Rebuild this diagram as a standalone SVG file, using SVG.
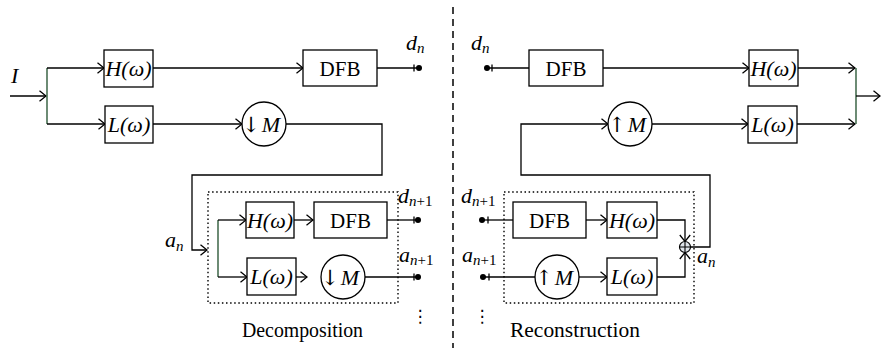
<svg xmlns="http://www.w3.org/2000/svg" width="885" height="348" viewBox="0 0 885 348">
<style>
.b{fill:#fff;stroke:#000;stroke-width:1.3}
.w{fill:none;stroke:#000;stroke-width:1.3}
.g{fill:none;stroke:#2e5b3a;stroke-width:1.4}
.dot{fill:none;stroke:#000;stroke-width:1.4;stroke-dasharray:1.5 2.6}
.t{font-family:"Liberation Serif",serif;font-size:21px;fill:#000}
.f{font-size:22px}
.l{font-size:22px}
.i{font-style:italic}
.s{font-size:15px}
.arw{font-family:"DejaVu Serif","Liberation Serif",serif;font-size:21px;fill:#000}
.a{marker-end:url(#ah)}
</style>
<defs>
<marker id="ah" viewBox="0 0 10 12" refX="9" refY="6" markerWidth="10" markerHeight="12" markerUnits="userSpaceOnUse" orient="auto">
<path d="M2.5,0.8 L9,6 L2.5,11.2" fill="none" stroke="#000" stroke-width="1.3"/>
</marker>
</defs>
<rect width="885" height="348" fill="#fff"/>

<line x1="453" y1="7" x2="453" y2="348" stroke="#000" stroke-width="1.5" stroke-dasharray="7 5"/>

<g id="connectors">
<line class="w a" x1="10" y1="96" x2="46" y2="96"/>
<line class="g" x1="47" y1="68" x2="47" y2="124"/>
<line class="w a" x1="47" y1="68" x2="104" y2="68"/>
<line class="w a" x1="47" y1="124" x2="105" y2="124"/>
<line class="w a" x1="153" y1="68" x2="303" y2="68"/>
<line class="w a" x1="153" y1="124" x2="242" y2="124"/>
<line class="w" x1="377" y1="68" x2="419" y2="68"/>
<line class="w" x1="414" y1="64.5" x2="414" y2="71.5"/>
<circle cx="419" cy="68" r="3"/>
<polyline class="w a" points="286,124 382,124 382,175 192,175 192,250 207,250"/>
<line class="g" x1="218" y1="220" x2="218" y2="277"/>
<line class="w a" x1="218" y1="220" x2="246" y2="220"/>
<line class="w a" x1="218" y1="277" x2="247" y2="277"/>
<line class="w a" x1="294" y1="220" x2="313" y2="220"/>
<line class="w a" x1="296" y1="277" x2="307" y2="277"/>
<line class="w" x1="387" y1="220" x2="418" y2="220"/>
<line class="w" x1="414" y1="216.5" x2="414" y2="223.5"/>
<circle cx="418" cy="220" r="3"/>
<line class="w" x1="365" y1="277" x2="418" y2="277"/>
<line class="w" x1="414" y1="273.5" x2="414" y2="280.5"/>
<circle cx="418" cy="277" r="3"/>
<line class="w" x1="487" y1="68" x2="529" y2="68"/>
<line class="w" x1="492" y1="64.5" x2="492" y2="71.5"/>
<circle cx="487" cy="68" r="3"/>
<line class="w a" x1="603" y1="68" x2="749" y2="68"/>
<line class="w a" x1="798" y1="68" x2="855" y2="68"/>
<line class="w a" x1="797" y1="124" x2="855" y2="124"/>
<line class="g" x1="856" y1="68" x2="856" y2="124"/>
<line class="w a" x1="856" y1="96" x2="880" y2="96"/>
<polyline class="w a" points="690.5,247 710,247 710,175 521,175 521,124 608,124"/>
<line class="w a" x1="652" y1="124" x2="748" y2="124"/>
<line class="w" x1="482" y1="220" x2="513" y2="220"/>
<line class="w" x1="488" y1="216.5" x2="488" y2="223.5"/>
<circle cx="482" cy="220" r="3"/>
<line class="w a" x1="586" y1="220" x2="607" y2="220"/>
<polyline class="w a" points="657,220 685,220 685,241.5"/>
<line class="w" x1="483" y1="277" x2="535" y2="277"/>
<line class="w" x1="489" y1="273.5" x2="489" y2="280.5"/>
<circle cx="483" cy="277" r="3"/>
<line class="w a" x1="579" y1="277" x2="607" y2="277"/>
<polyline class="w a" points="657,277 685,277 685,252.5"/>
</g>

<text class="t i l" x="11" y="83">I</text>
<text class="t l" x="406" y="50"><tspan class="i">d</tspan><tspan class="i s" dy="3">n</tspan></text>
<text class="t l" x="471" y="50"><tspan class="i">d</tspan><tspan class="i s" dy="3">n</tspan></text>
<text class="t l" x="165" y="247"><tspan class="i">a</tspan><tspan class="i s" dy="4">n</tspan></text>
<text class="t l" x="398" y="203"><tspan class="i">d</tspan><tspan class="s" dy="3"><tspan class="i">n</tspan>+1</tspan></text>
<text class="t l" x="399" y="262"><tspan class="i">a</tspan><tspan class="s" dy="3"><tspan class="i">n</tspan>+1</tspan></text>
<text class="t l" x="461" y="203"><tspan class="i">d</tspan><tspan class="s" dy="3"><tspan class="i">n</tspan>+1</tspan></text>
<text class="t l" x="462" y="262"><tspan class="i">a</tspan><tspan class="s" dy="3"><tspan class="i">n</tspan>+1</tspan></text>
<text class="t l" x="697" y="263"><tspan class="i">a</tspan><tspan class="i s" dy="4">n</tspan></text>
<text x="420" y="322" text-anchor="middle" style="font-family:'DejaVu Sans',sans-serif;font-size:17px">⋮</text>
<text x="482" y="322" text-anchor="middle" style="font-family:'DejaVu Sans',sans-serif;font-size:17px">⋮</text>
<text class="t" x="242" y="337" textLength="121" lengthAdjust="spacingAndGlyphs" style="font-size:20px">Decomposition</text>
<text class="t" x="510" y="337" textLength="130" lengthAdjust="spacingAndGlyphs" style="font-size:20px">Reconstruction</text>

<g id="H1"><rect class="b" x="104" y="50" width="49" height="37"/><text class="t i f" x="128.5" y="76" text-anchor="middle">H(ω)</text></g>
<g id="L1"><rect class="b" x="105" y="106" width="48" height="37"/><text class="t i f" x="129" y="132" text-anchor="middle">L(ω)</text></g>
<g id="DFB1"><rect class="b" x="303" y="50" width="74" height="36"/><text class="t" x="340" y="75.5" text-anchor="middle">DFB</text></g>
<g id="down1"><circle class="b" cx="264" cy="124" r="22"/><text class="arw" x="251" y="132" text-anchor="middle">↓</text><text class="t i f" x="271" y="131.5" text-anchor="middle">M</text></g>
<g id="dec"><rect class="dot" x="208" y="192" width="190" height="111"/></g>
<g id="H2"><rect class="b" x="246" y="202" width="48" height="36"/><text class="t i f" x="270" y="228" text-anchor="middle">H(ω)</text></g>
<g id="DFB2"><rect class="b" x="314" y="202" width="73" height="36"/><text class="t" x="350.5" y="227.5" text-anchor="middle">DFB</text></g>
<g id="L2"><rect class="b" x="247" y="258" width="49" height="37"/><text class="t i f" x="271.5" y="284" text-anchor="middle">L(ω)</text></g>
<g id="down2"><circle class="b" cx="343" cy="277" r="22"/><text class="arw" x="330" y="285" text-anchor="middle">↓</text><text class="t i f" x="350" y="284.5" text-anchor="middle">M</text></g>

<g id="DFB3"><rect class="b" x="529" y="50" width="74" height="36"/><text class="t" x="566" y="75.5" text-anchor="middle">DFB</text></g>
<g id="H3"><rect class="b" x="749" y="50" width="49" height="36"/><text class="t i f" x="773.5" y="76" text-anchor="middle">H(ω)</text></g>
<g id="up1"><circle class="b" cx="630" cy="124" r="22"/><text class="arw" x="617" y="132" text-anchor="middle">↑</text><text class="t i f" x="637" y="131.5" text-anchor="middle">M</text></g>
<g id="L3"><rect class="b" x="748" y="106" width="49" height="37"/><text class="t i f" x="772.5" y="132" text-anchor="middle">L(ω)</text></g>
<g id="rec"><rect class="dot" x="504" y="192" width="190" height="111"/></g>
<g id="DFB4"><rect class="b" x="513" y="202" width="73" height="36"/><text class="t" x="549.5" y="227.5" text-anchor="middle">DFB</text></g>
<g id="H4"><rect class="b" x="607" y="202" width="50" height="36"/><text class="t i f" x="632" y="228" text-anchor="middle">H(ω)</text></g>
<g id="up2"><circle class="b" cx="557" cy="277" r="22"/><text class="arw" x="544" y="285" text-anchor="middle">↑</text><text class="t i f" x="564" y="284.5" text-anchor="middle">M</text></g>
<g id="L4"><rect class="b" x="607" y="258" width="50" height="37"/><text class="t i f" x="632" y="284" text-anchor="middle">L(ω)</text></g>
<g id="sum"><circle cx="685" cy="247" r="5.5" fill="#dfe4ea" stroke="#000" stroke-width="1.2"/><path d="M679.5,247 H690.5 M685,241.5 V252.5" stroke="#000" stroke-width="1.1"/></g>
</svg>
